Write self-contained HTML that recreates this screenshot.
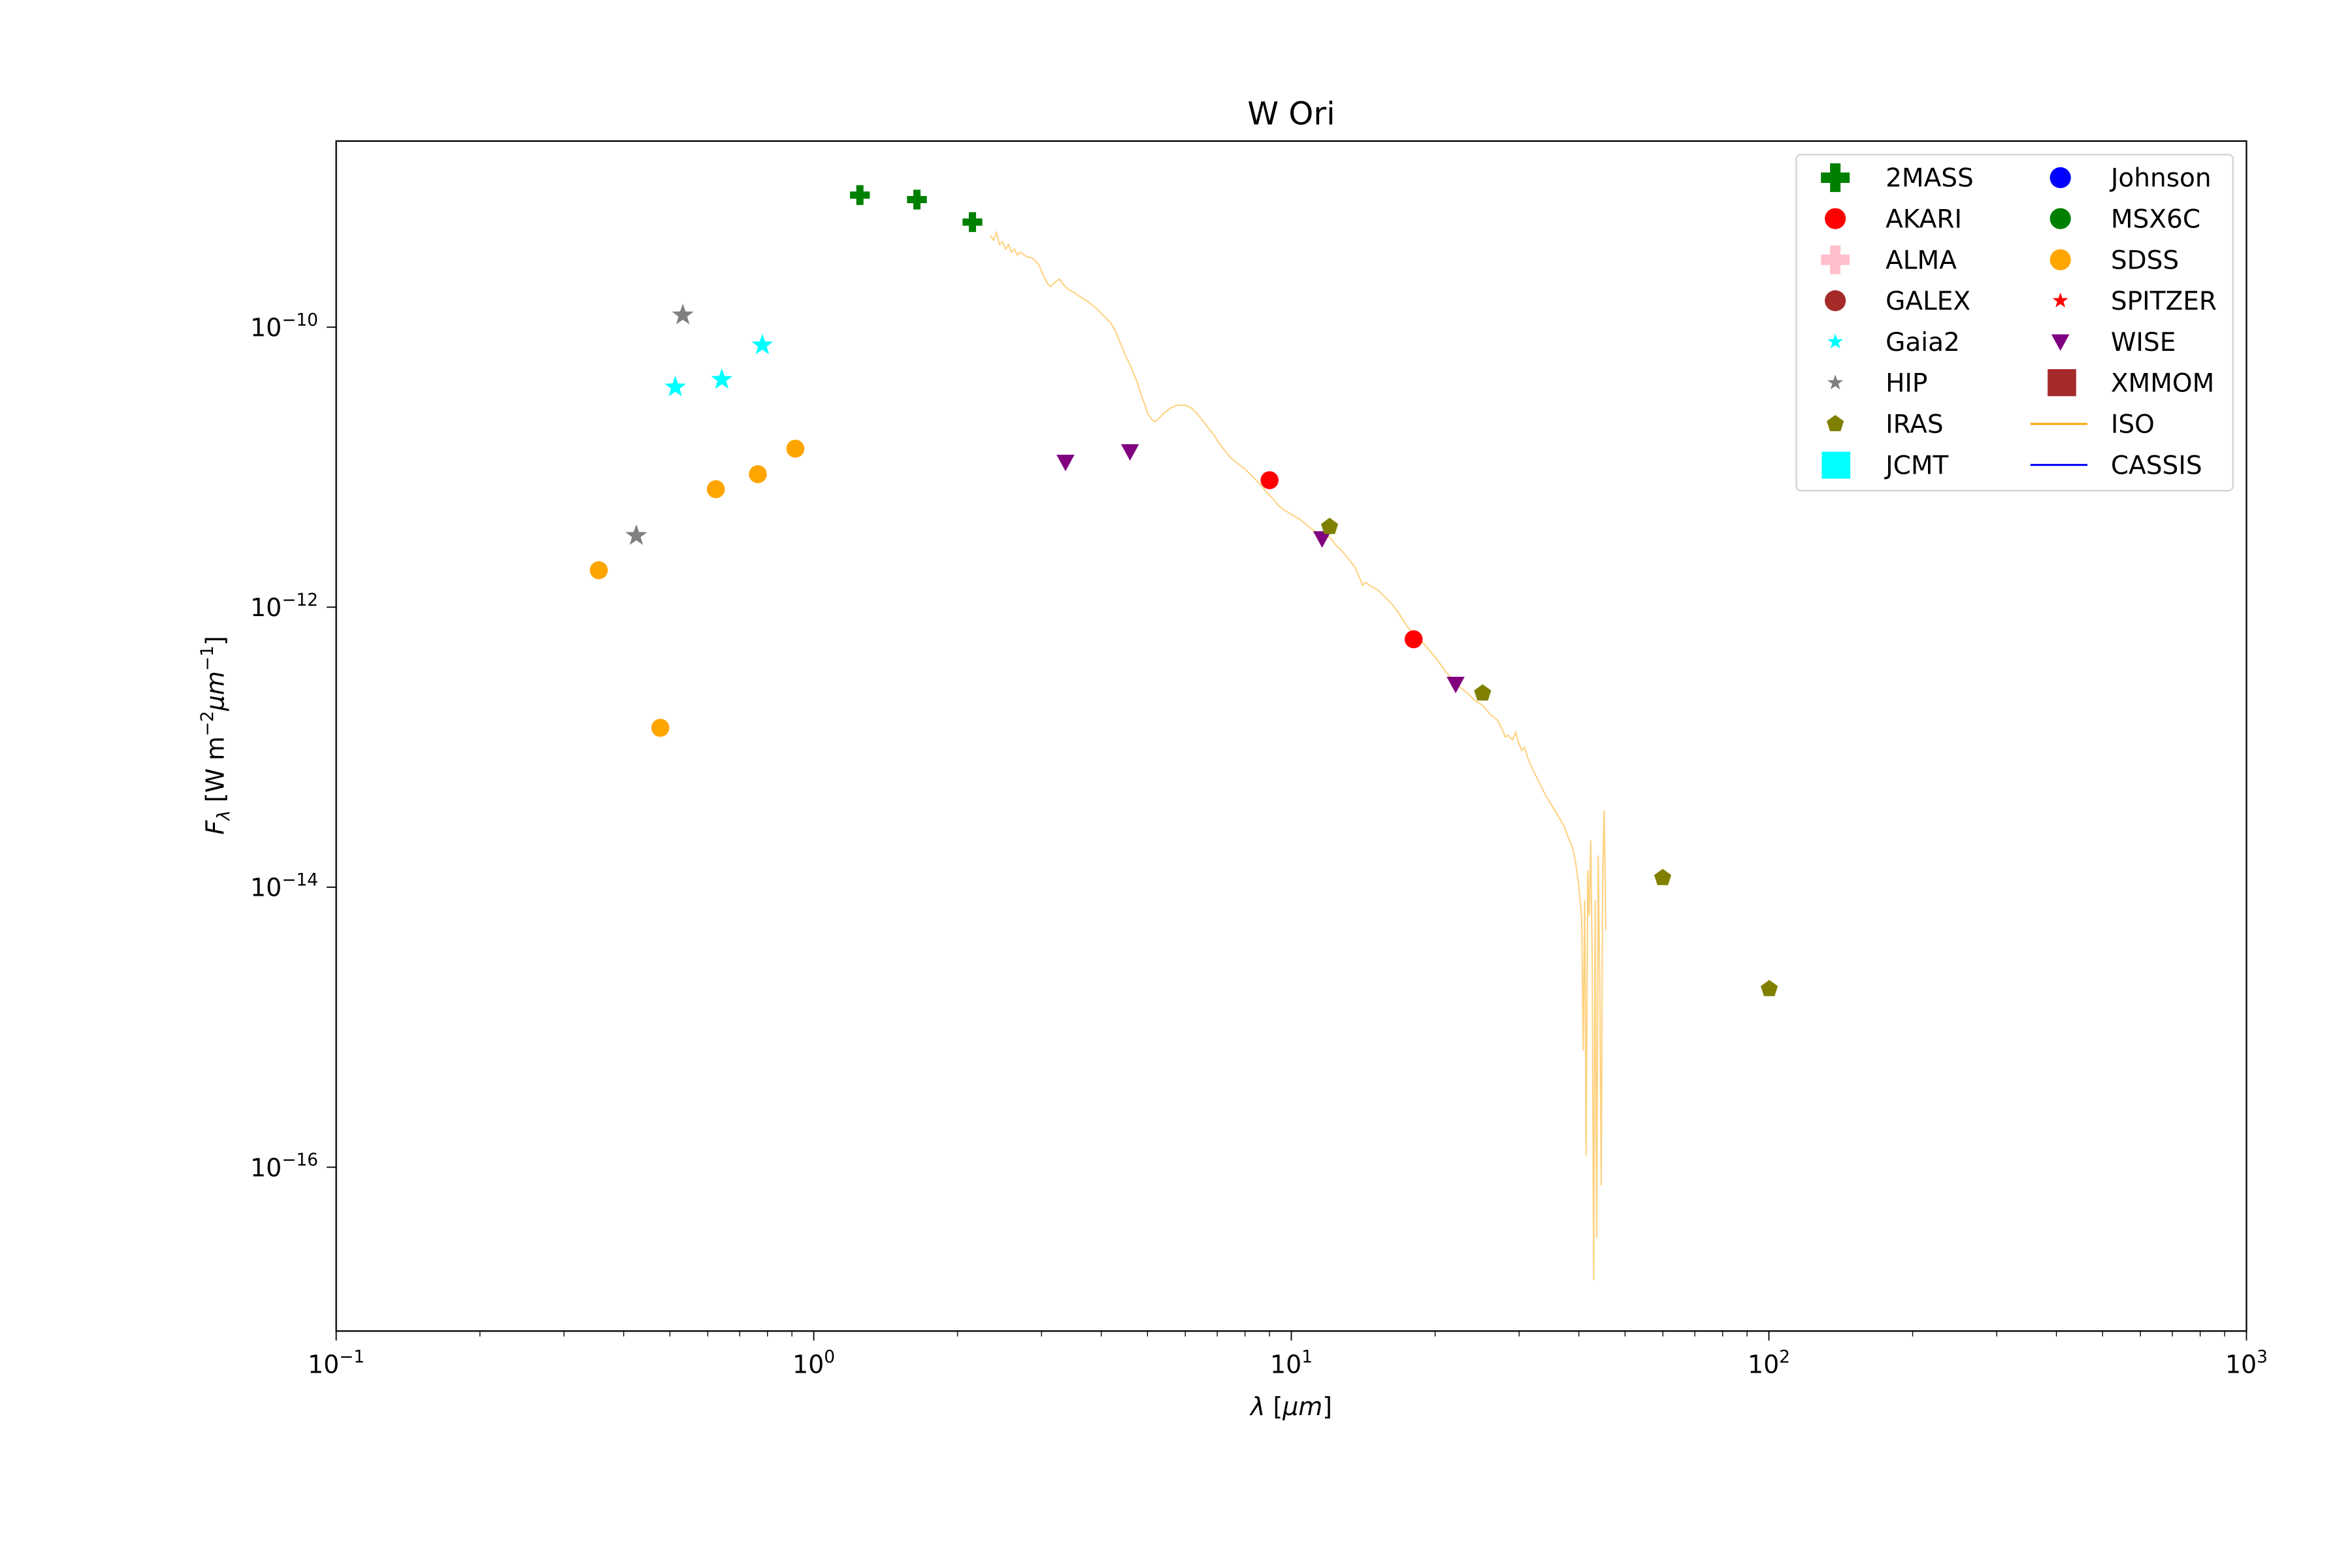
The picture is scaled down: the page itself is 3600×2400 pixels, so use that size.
<!DOCTYPE html>
<html><head><meta charset="utf-8"><style>
html,body{margin:0;padding:0;background:#fff}
svg{display:block}
text{font-family:"DejaVu Sans","Liberation Sans",sans-serif;fill:#000}
</style></head><body>
<svg width="3600" height="2400" viewBox="0 0 1567.3 1044.9" xmlns="http://www.w3.org/2000/svg">
<defs>
<path id="star" d="M0,-7.6 L1.8,-2.47 L7.23,-2.35 L2.89,0.95 L4.47,6.15 L0,3.04 L-4.47,6.15 L-2.89,0.95 L-7.23,-2.35 L-1.8,-2.47Z"/>
<path id="pent" d="M0,-6 L5.71,-1.85 L3.53,4.85 L-3.53,4.85 L-5.71,-1.85Z"/>
<path id="plus" d="M-2.4,-6.6 H2.4 V-2.4 H6.6 V2.4 H2.4 V6.6 H-2.4 V2.4 H-6.6 V-2.4 H-2.4Z"/>
<path id="tri" d="M-6,-5 L6,-5 L0,6Z"/>
</defs>
<rect x="0" y="0" width="1567.3" height="1044.9" fill="#fff"/>
<text x="860.5" y="83" font-size="21" text-anchor="middle">W Ori</text>

<polyline fill="none" stroke="#ffa500" stroke-opacity="0.5" stroke-width="0.9" points="660,157 662,160 664,155 666,163 668,161 670,166 672,163 674,168 676,166 678,170 680,168 684,171 688,172 692,176 695,183 698,189 700,191 703,188 706,186 709,190 712,193 716,195 720,198 725,201 730,205 735,210 740,215 743,220 745,225 748,232 750,237 753,243 755,248 758,255 760,262 763,270 765,276 768,280 770,281 773,278 776,275 780,272 784,270 790,270 794,272 798,276 802,281 805,285 809,290 812,295 816,300 820,305 825,309 830,313 835,318 840,323 844,328 848,332 852,337 856,340 861,343 866,346 871,350 876,354 881,356 886,358 890,363 895,368 899,373 903,378 906,385 908,390 910,388 914,391 918,393 923,398 928,403 933,410 938,418 943,423 948,428 953,434 958,440 963,447 968,453 973,458 978,462 983,467 988,470 993,476 998,480 1001,486 1003,491 1005,490 1008,493 1010,488 1012,495 1014,500 1016,498 1018,505 1021,512 1025,520 1028,526 1030,530 1033,535 1036,540 1039,545 1042,550 1045,558 1048,565 1050,575 1052,590 1053,600 1054,612 1055,700 1056,600 1057,770 1058,580 1059,610 1060,560 1061,640 1062,853 1063,600 1064,825 1065,570 1066,650 1067,790 1068,580 1069,540 1070,620"/>

<rect x="224" y="94" width="1273" height="793" fill="none" stroke="#000" stroke-width="1"/>

<g stroke="#000" stroke-width="0.8">
<line x1="224" y1="887" x2="224" y2="893.3"/><line x1="542.25" y1="887" x2="542.25" y2="893.3"/><line x1="860.5" y1="887" x2="860.5" y2="893.3"/><line x1="1178.75" y1="887" x2="1178.75" y2="893.3"/><line x1="1497" y1="887" x2="1497" y2="893.3"/>
</g>
<g stroke="#000" stroke-width="0.6">
<line x1="319.8" y1="887" x2="319.8" y2="890.6"/><line x1="375.8" y1="887" x2="375.8" y2="890.6"/><line x1="415.6" y1="887" x2="415.6" y2="890.6"/><line x1="446.4" y1="887" x2="446.4" y2="890.6"/><line x1="471.6" y1="887" x2="471.6" y2="890.6"/><line x1="492.9" y1="887" x2="492.9" y2="890.6"/><line x1="511.4" y1="887" x2="511.4" y2="890.6"/><line x1="527.7" y1="887" x2="527.7" y2="890.6"/>
<line x1="638.05" y1="887" x2="638.05" y2="890.6"/><line x1="694.05" y1="887" x2="694.05" y2="890.6"/><line x1="733.85" y1="887" x2="733.85" y2="890.6"/><line x1="764.65" y1="887" x2="764.65" y2="890.6"/><line x1="789.85" y1="887" x2="789.85" y2="890.6"/><line x1="811.15" y1="887" x2="811.15" y2="890.6"/><line x1="829.65" y1="887" x2="829.65" y2="890.6"/><line x1="845.95" y1="887" x2="845.95" y2="890.6"/>
<line x1="956.3" y1="887" x2="956.3" y2="890.6"/><line x1="1012.3" y1="887" x2="1012.3" y2="890.6"/><line x1="1052.1" y1="887" x2="1052.1" y2="890.6"/><line x1="1082.9" y1="887" x2="1082.9" y2="890.6"/><line x1="1108.1" y1="887" x2="1108.1" y2="890.6"/><line x1="1129.4" y1="887" x2="1129.4" y2="890.6"/><line x1="1147.9" y1="887" x2="1147.9" y2="890.6"/><line x1="1164.2" y1="887" x2="1164.2" y2="890.6"/>
<line x1="1274.55" y1="887" x2="1274.55" y2="890.6"/><line x1="1330.55" y1="887" x2="1330.55" y2="890.6"/><line x1="1370.35" y1="887" x2="1370.35" y2="890.6"/><line x1="1401.15" y1="887" x2="1401.15" y2="890.6"/><line x1="1426.35" y1="887" x2="1426.35" y2="890.6"/><line x1="1447.65" y1="887" x2="1447.65" y2="890.6"/><line x1="1466.15" y1="887" x2="1466.15" y2="890.6"/><line x1="1482.45" y1="887" x2="1482.45" y2="890.6"/>
</g>
<g font-size="16.5" text-anchor="middle">
<text x="224" y="915">10<tspan font-size="11.5" dy="-7">−1</tspan></text>
<text x="542.25" y="915">10<tspan font-size="11.5" dy="-7">0</tspan></text>
<text x="860.5" y="915">10<tspan font-size="11.5" dy="-7">1</tspan></text>
<text x="1178.75" y="915">10<tspan font-size="11.5" dy="-7">2</tspan></text>
<text x="1497" y="915">10<tspan font-size="11.5" dy="-7">3</tspan></text>
</g>
<text x="860.5" y="943" font-size="16.5" text-anchor="middle"><tspan font-style="italic">λ</tspan> [<tspan font-style="italic">μm</tspan>]</text>

<g stroke="#000" stroke-width="0.8">
<line x1="217.7" y1="218" x2="224" y2="218"/><line x1="217.7" y1="404.6" x2="224" y2="404.6"/><line x1="217.7" y1="591.2" x2="224" y2="591.2"/><line x1="217.7" y1="777.8" x2="224" y2="777.8"/>
</g>
<g font-size="16.5" text-anchor="end">
<text x="212" y="224">10<tspan font-size="11.5" dy="-7">−10</tspan></text>
<text x="212" y="410.6">10<tspan font-size="11.5" dy="-7">−12</tspan></text>
<text x="212" y="597.2">10<tspan font-size="11.5" dy="-7">−14</tspan></text>
<text x="212" y="783.8">10<tspan font-size="11.5" dy="-7">−16</tspan></text>
</g>
<text transform="translate(149,490) rotate(-90)" font-size="16.5" text-anchor="middle"><tspan font-style="italic">F</tspan><tspan font-size="11.5" font-style="italic" dy="4">λ</tspan><tspan dy="-4"> [W m</tspan><tspan font-size="11.5" dy="-7">−2</tspan><tspan dy="7" font-style="italic">μm</tspan><tspan font-size="11.5" dy="-7">−1</tspan><tspan dy="7">]</tspan></text>

<g fill="#008000"><use href="#plus" x="573" y="130"/><use href="#plus" x="611" y="133"/><use href="#plus" x="648" y="148"/></g>
<g fill="#00ffff"><use href="#star" x="450" y="258"/><use href="#star" x="481" y="253"/><use href="#star" x="508" y="230"/></g>
<g fill="#808080"><use href="#star" x="455" y="210"/><use href="#star" x="424" y="357"/></g>
<g fill="#ffa500"><circle cx="399" cy="380" r="6"/><circle cx="440" cy="485" r="6"/><circle cx="477" cy="326" r="6"/><circle cx="505" cy="316" r="6"/><circle cx="530" cy="299" r="6"/></g>
<g fill="#800080"><use href="#tri" x="710" y="308"/><use href="#tri" x="753" y="301"/><use href="#tri" x="881" y="359"/><use href="#tri" x="970" y="456"/></g>
<g fill="#ff0000"><circle cx="846" cy="320" r="6"/><circle cx="942" cy="426" r="6"/></g>
<g fill="#808000"><use href="#pent" x="886" y="351"/><use href="#pent" x="988" y="462"/><use href="#pent" x="1108" y="585"/><use href="#pent" x="1179" y="659"/></g>

<rect x="1197" y="103" width="291" height="224" rx="3" fill="#fff" fill-opacity="0.8" stroke="#d3d3d3" stroke-width="1"/>
<g font-size="17">
<text x="1256.5" y="124.4">2MASS</text>
<text x="1256.5" y="151.7">AKARI</text>
<text x="1256.5" y="179.1">ALMA</text>
<text x="1256.5" y="206.4">GALEX</text>
<text x="1256.5" y="233.8">Gaia2</text>
<text x="1256.5" y="261.1">HIP</text>
<text x="1256.5" y="288.5">IRAS</text>
<text x="1256.5" y="315.8">JCMT</text>
<text x="1406.6" y="124.4">Johnson</text>
<text x="1406.6" y="151.7">MSX6C</text>
<text x="1406.6" y="179.1">SDSS</text>
<text x="1406.6" y="206.4">SPITZER</text>
<text x="1406.6" y="233.8">WISE</text>
<text x="1406.6" y="261.1">XMMOM</text>
<text x="1406.6" y="288.5">ISO</text>
<text x="1406.6" y="315.8">CASSIS</text>
</g>
<g transform="translate(1223,118.4) scale(1.45)"><use href="#plus" fill="#008000"/></g>
<circle cx="1223" cy="145.7" r="7" fill="#ff0000"/>
<g transform="translate(1223,173.1) scale(1.45)"><use href="#plus" fill="#ffc0cb"/></g>
<circle cx="1223" cy="200.4" r="7" fill="#a52a2a"/>
<g transform="translate(1223,227.8) scale(0.72)"><use href="#star" fill="#00ffff"/></g>
<g transform="translate(1223,255.1) scale(0.72)"><use href="#star" fill="#808080"/></g>
<use href="#pent" x="1223" y="282.5" fill="#808000"/>
<rect x="1214" y="301" width="19" height="18" fill="#00ffff"/>
<circle cx="1373" cy="118.4" r="7" fill="#0000ff"/>
<circle cx="1373" cy="145.7" r="7" fill="#008000"/>
<circle cx="1373" cy="173.1" r="7" fill="#ffa500"/>
<g transform="translate(1373,200.4) scale(0.72)"><use href="#star" fill="#ff0000"/></g>
<use href="#tri" x="1373" y="227.8" fill="#800080"/>
<rect x="1364.5" y="246" width="19" height="18" fill="#a52a2a"/>
<line x1="1353" y1="282.5" x2="1391" y2="282.5" stroke="#ffa500" stroke-width="1.3"/>
<line x1="1353" y1="309.8" x2="1391" y2="309.8" stroke="#0000ff" stroke-width="1.3"/>
</svg>
</body></html>
